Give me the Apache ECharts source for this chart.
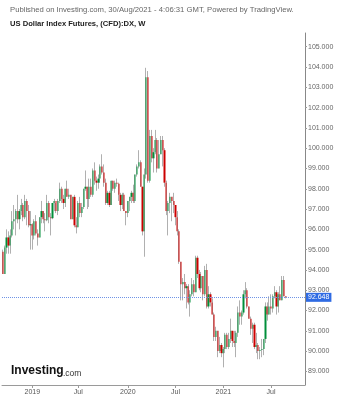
<!DOCTYPE html>
<html><head><meta charset="utf-8">
<script src="https://cdn.jsdelivr.net/npm/echarts@6/dist/echarts.min.js"></script>
<style>html,body{margin:0;padding:0;background:#fff}#c{width:338px;height:399px}</style>
</head><body><div id="c"></div>
<script>
// Weekly candles, first week starting 2018-09-17
const startWeek = '2018-09-17';
const opens = [
94.9,93.8,95.1,95.6,95.2,95.7,96.4,96.5,96.9,96.5,
96.9,97.2,96.6,97.4,96.9,96.2,96.25,95.7,96.4,95.8,
95.6,96.6,96.9,96.5,96.45,97.3,96.6,96.55,97.3,97.4,
96.9,97.4,98.0,97.5,97.3,98.0,97.6,97.7,96.5,97.6,
96.2,96.1,97.3,96.8,97.1,98.0,98.1,97.5,98.1,97.7,
98.9,98.4,98.3,98.5,99.1,98.8,98.3,97.3,97.8,97.2,
98.4,98.0,98.3,98.25,97.7,97.2,97.7,96.9,96.8,97.4,
97.6,97.8,97.4,98.7,99.1,99.3,98.1,95.9,98.7,103.5,
98.4,100.6,99.5,99.8,100.4,99.0,99.7,100.4,99.9,98.3,
96.9,97.3,97.6,97.4,97.2,96.6,95.9,94.4,93.3,93.4,
93.1,93.2,92.4,92.8,93.3,92.9,94.6,93.8,93.1,93.7,
92.8,94.0,92.2,92.8,92.4,91.8,90.7,91.0,90.0,90.3,
89.9,90.1,90.8,90.2,90.6,91.0,90.5,90.4,90.9,91.9,
91.7,91.9,92.8,93.0,92.2,91.6,91.1,91.3,90.2,90.3,
90.0,90.05,90.1,90.6,92.2,91.8,92.2,92.1,92.7,92.9,
92.2,92.8,92.5,93.5,92.7
];
const closes = [
93.8,95.1,95.6,95.2,95.7,96.4,96.5,96.9,96.5,96.9,
97.2,96.6,97.4,96.9,96.2,96.25,95.7,96.4,95.8,95.6,
96.6,96.9,96.5,96.45,97.3,96.6,96.55,97.3,97.4,96.9,
97.4,98.0,97.5,97.3,98.0,97.6,97.7,96.5,97.6,96.2,
96.1,97.3,96.8,97.1,98.0,98.1,97.5,98.1,97.7,98.9,
98.4,98.3,98.5,99.1,98.8,98.3,97.3,97.8,97.2,98.4,
98.0,98.3,98.25,97.7,97.2,97.7,96.9,96.8,97.4,97.6,
97.8,97.4,98.7,99.1,99.3,98.1,95.9,98.7,103.5,98.4,
100.6,99.5,99.8,100.4,99.0,99.7,100.4,99.9,98.3,96.9,
97.3,97.6,97.4,97.2,96.6,95.9,94.4,93.3,93.4,93.1,
93.2,92.4,92.8,93.3,92.9,94.6,93.8,93.1,93.7,92.8,
94.0,92.2,92.8,92.4,91.8,90.7,91.0,90.0,90.3,89.9,
90.1,90.8,90.2,90.6,91.0,90.5,90.4,90.9,91.9,91.7,
91.9,92.8,93.0,92.2,91.6,91.1,91.3,90.2,90.3,90.0,
90.05,90.1,90.6,92.2,91.8,92.2,92.1,92.7,92.9,92.2,
92.8,92.5,93.5,92.7,92.648
];
const lows = [
93.8,93.8,94.8,94.8,94.8,95.6,96.0,95.7,96.3,96.0,
96.7,96.4,96.5,96.2,96.1,95.0,95.0,95.5,95.7,95.2,
95.6,96.3,96.3,95.9,96.4,96.3,95.7,96.5,96.9,96.8,
96.7,97.3,97.3,97.0,97.1,97.6,97.5,96.5,96.5,96.1,
95.8,96.1,96.6,96.6,97.0,97.9,97.0,97.1,97.6,97.6,
98.2,97.9,98.0,98.3,98.7,98.1,97.2,97.2,97.1,97.2,
97.9,97.8,98.1,97.4,96.9,97.0,96.9,96.2,96.6,96.9,
97.3,97.3,97.3,98.6,99.0,98.1,95.7,94.65,98.5,98.3,
98.3,99.3,98.8,99.7,98.8,99.0,99.7,99.1,98.1,96.7,
95.7,96.8,96.4,96.8,96.2,95.7,94.3,92.5,92.5,92.8,
92.1,92.3,91.7,92.7,92.7,92.9,93.6,93.0,92.9,92.5,
92.7,92.1,92.1,92.2,91.8,90.5,90.5,89.7,89.9,89.7,
89.2,89.9,90.1,90.1,90.4,90.2,90.2,89.7,90.7,91.3,
91.3,91.8,92.6,92.1,91.6,90.8,90.4,90.1,89.9,89.6,
89.6,89.7,89.8,90.4,91.5,91.8,91.8,91.9,92.6,91.8,
91.9,92.5,92.5,92.7,92.6
];
const highs = [
95.0,95.2,96.0,95.9,96.0,96.9,97.2,97.0,97.7,97.0,
97.5,97.3,97.7,97.5,97.2,96.9,96.3,96.5,96.7,96.0,
96.6,97.4,96.9,96.8,97.7,97.4,96.8,97.3,97.5,97.3,
97.5,98.3,98.1,97.7,98.0,98.4,98.0,97.7,97.6,97.7,
96.6,97.4,97.6,97.3,98.0,98.9,98.1,98.5,98.5,99.0,
99.3,98.6,98.7,99.2,99.7,99.2,98.5,97.9,97.9,98.4,
98.4,98.4,98.5,98.3,97.8,97.8,97.8,96.9,97.4,97.6,
97.9,98.2,98.7,99.2,99.9,99.4,98.1,99.0,103.96,103.8,
100.9,100.9,100.0,100.9,100.5,100.4,100.6,100.6,100.0,98.4,
97.4,97.8,97.6,97.8,97.2,96.9,96.0,94.4,93.6,93.8,
93.3,93.3,93.0,93.6,93.5,94.7,94.7,94.0,93.9,93.7,
94.2,94.3,93.2,92.9,92.6,91.9,91.2,91.0,90.7,90.4,
90.2,90.9,90.9,90.9,91.6,91.0,91.0,91.0,92.2,92.5,
92.0,93.0,93.4,93.1,92.2,91.7,91.4,91.4,90.9,90.4,
90.2,90.6,90.6,92.4,92.4,92.7,92.8,92.8,93.2,93.0,
92.9,93.2,93.7,93.7,92.7
];
const padWeeks = 10;
const yTickValues = [89,90,91,92,93,94,95,96,97,98,99,100,101,102,103,104,105];
const xTickDates = ['2019-01-07','2019-07-01','2020-01-06','2020-07-06','2021-01-04','2021-07-05'];
const xTickLabels = ['2019','Jul','2020','Jul','2021','Jul'];
const lastPrice = 92.648;

const categories = [];
const d0 = new Date(startWeek + 'T00:00:00Z');
for (let i = 0; i < opens.length + padWeeks; i++) {
  categories.push(new Date(d0.getTime() + i * 7 * 86400000).toISOString().slice(0, 10));
}
const tickIndex = {};
xTickDates.forEach((d, k) => { tickIndex[categories.indexOf(d)] = xTickLabels[k]; });
const isTick = (i) => tickIndex[i] !== undefined;

const wickData = opens.map((o, i) => [o, closes[i], lows[i], highs[i]]);
const bodyData = opens.map((o, i) => [o, closes[i], Math.min(o, closes[i]), Math.max(o, closes[i])]);

const chart = echarts.init(document.getElementById('c'), null, {renderer: 'canvas'});
chart.setOption({
  animation: false,
  grid: {left: 2, right: 33, top: 33, bottom: 14},
  xAxis: {
    type: 'category', data: categories, boundaryGap: true,
    axisLine: {lineStyle: {color: '#9a9a9a'}},
    axisTick: {show: true, alignWithLabel: true, interval: isTick, length: 3, lineStyle: {color: '#9a9a9a'}},
    axisLabel: {interval: isTick, formatter: (v, i) => tickIndex[i] || '', fontSize: 7, color: '#555', margin: 4, fontFamily: 'Arial'},
    splitLine: {show: false}
  },
  yAxis: {
    type: 'value', position: 'right', min: 88.33, max: 105.675,
    axisLine: {show: true, lineStyle: {color: '#888'}},
    axisTick: {show: true, length: 2, customValues: yTickValues, lineStyle: {color: '#999'}},
    axisLabel: {customValues: yTickValues, formatter: v => Number(v).toFixed(3), fontSize: 7, color: '#666', margin: 3, fontFamily: 'Arial'},
    splitLine: {show: false}
  },
  series: [
    {
      type: 'candlestick', data: wickData, barWidth: 1,
      itemStyle: {color: '#c4c4c4', color0: '#c4c4c4', borderColor: '#b0b0b0', borderColor0: '#b0b0b0', borderWidth: 1},
      markLine: {
        silent: true, symbol: ['none', 'none'],
        data: [{yAxis: lastPrice}],
        lineStyle: {type: 'dotted', color: '#6f93e6', width: 1},
        label: {position: 'end', distance: 1, formatter: () => lastPrice.toFixed(3), color: '#fff', backgroundColor: '#2f6be3', padding: [1, 2], fontSize: 7, fontFamily: 'Arial'}
      }
    },
    {
      type: 'candlestick', data: bodyData, barWidth: 1.7,
      itemStyle: {color: '#008f3a', color0: '#cc0000', borderColor: '#008f3a', borderColor0: '#cc0000', borderWidth: 0}
    }
  ],
  graphic: [
    {type: 'text', left: 10, top: 6, style: {text: 'Published on Investing.com, 30/Aug/2021 - 4:06:31 GMT, Powered by TradingView.', font: '7.7px Arial', fill: '#666'}},
    {type: 'text', left: 10, top: 20, style: {text: 'US Dollar Index Futures, (CFD):DX, W', font: 'bold 7.6px Arial', fill: '#222'}},
    {type: 'text', left: 11, top: 365, style: {text: 'Investing', font: 'bold 12px Arial', fill: '#111'}},
    {type: 'text', left: 63, top: 369, style: {text: '.com', font: '8.5px Arial', fill: '#333'}}
  ]
});
</script>
</body></html>
